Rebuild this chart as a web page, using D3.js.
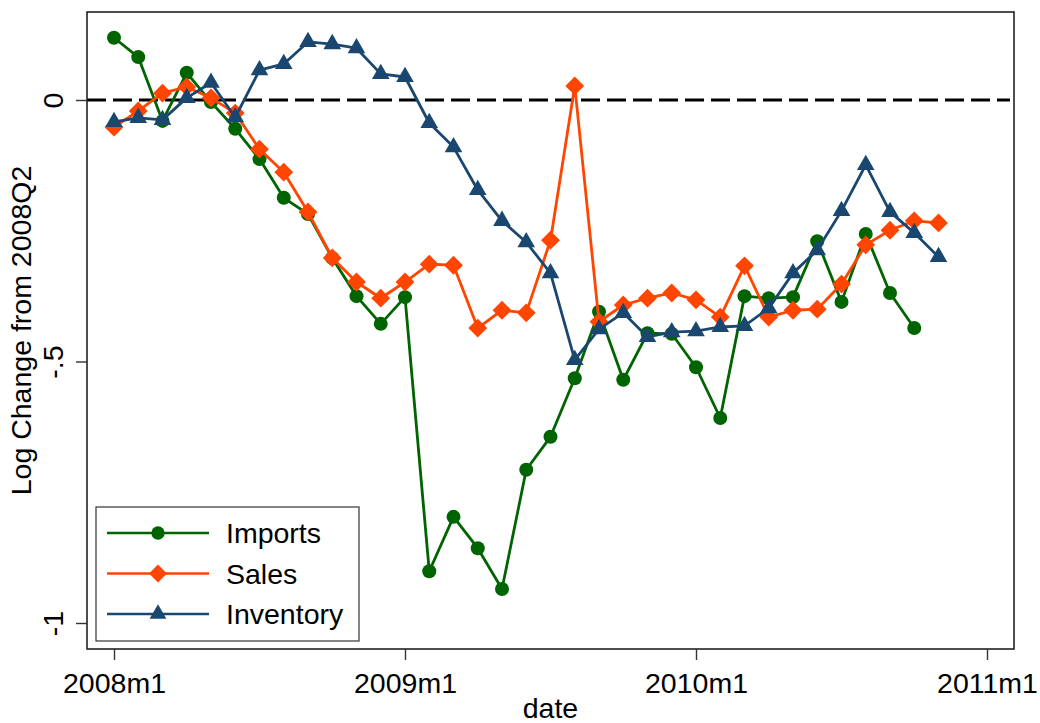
<!DOCTYPE html>
<html lang="en">
<head>
    <meta charset="UTF-8">
    <title>Log Change from 2008Q2</title>
    <script src="https://d3js.org/d3.v7.min.js"></script>
    <style>
        body { margin: 0; background: #fff; }
        svg text { font-family: 'Liberation Sans', Arial, sans-serif; fill: #000; }
    </style>
</head>
<body>
    <div id="chart"></div>

    <script>
        // Monthly values, first point = 2008m1
        const imports = [0.119, 0.082, -0.040, 0.052, -0.004, -0.055, -0.113, -0.187, -0.218, -0.302,
            -0.375, -0.428, -0.377, -0.901, -0.797, -0.857, -0.935, -0.707, -0.644, -0.532,
            -0.405, -0.535, -0.446, -0.447, -0.511, -0.608, -0.375, -0.379, -0.377, -0.270,
            -0.386, -0.256, -0.369, -0.436];
        const sales = [-0.052, -0.021, 0.013, 0.025, 0.004, -0.025, -0.094, -0.138, -0.214, -0.302,
            -0.348, -0.379, -0.348, -0.314, -0.316, -0.436, -0.402, -0.407, -0.268, 0.027,
            -0.424, -0.392, -0.379, -0.369, -0.382, -0.415, -0.317, -0.415, -0.402, -0.400,
            -0.352, -0.277, -0.249, -0.231, -0.235];
        const inventory = [-0.042, -0.034, -0.038, 0.004, 0.033, -0.033, 0.057, 0.069, 0.111, 0.107,
            0.099, 0.050, 0.044, -0.044, -0.090, -0.172, -0.231, -0.272, -0.331, -0.497,
            -0.438, -0.407, -0.453, -0.444, -0.442, -0.434, -0.432, -0.398, -0.331, -0.287,
            -0.212, -0.124, -0.214, -0.254, -0.300];

        const xTickMonths = [0, 12, 24, 36];
        const xTickLabels = ['2008m1', '2009m1', '2010m1', '2011m1'];
        const yTickValues = [0, -0.5, -1];
        const yTickLabels = ['0', '-.5', '-1'];

        const seriesNames = ['Imports', 'Sales', 'Inventory'];

        const config = {
            width: 1040,
            height: 723,
            plot: { left: 87, top: 12, width: 927, height: 637 },
            colors: ['#006400', '#ff4500', '#1a476f'],
            fontSize: 28.5
        };

        function diamondPath(r) {
            return `M0,${-r}L${r},0L0,${r}L${-r},0Z`;
        }

        function drawMarker(sel, kind, color, scale) {
            const s = scale || 1;
            if (kind === 0) {
                sel.append('circle').attr('r', 7 * s).attr('fill', color);
            } else if (kind === 1) {
                sel.append('path').attr('d', diamondPath(9.4 * s)).attr('fill', color);
            } else {
                sel.append('path')
                    .attr('d', d3.symbol().type(d3.symbolTriangle).size(135 * s * s)())
                    .attr('fill', color);
            }
        }

        function initChart() {
            const p = config.plot;
            const svg = d3.select('#chart').append('svg')
                .attr('width', config.width)
                .attr('height', config.height);

            const g = svg.append('g')
                .attr('transform', `translate(${p.left}, ${p.top})`);

            const xScale = d3.scaleLinear().domain([0, 36]).range([27, 900]);
            const yScale = d3.scaleLinear().domain([-1, 0]).range([611, 88]);

            // zero line
            g.append('line')
                .attr('x1', 0).attr('x2', p.width - 4)
                .attr('y1', yScale(0)).attr('y2', yScale(0))
                .attr('stroke', '#000')
                .attr('stroke-width', 3)
                .attr('stroke-dasharray', '19,7');

            const allSeries = [imports, sales, inventory];
            const line = d3.line()
                .x((d, i) => xScale(i))
                .y(d => yScale(d));

            allSeries.forEach((values, k) => {
                const color = config.colors[k];
                g.append('path')
                    .datum(values)
                    .attr('fill', 'none')
                    .attr('stroke', color)
                    .attr('stroke-width', 2.8)
                    .attr('stroke-linejoin', 'round')
                    .attr('d', line);

                g.selectAll(`.m${k}`)
                    .data(values)
                    .enter()
                    .append('g')
                    .attr('class', `m${k}`)
                    .attr('transform', (d, i) => `translate(${xScale(i)}, ${yScale(d)})`)
                    .each(function () { drawMarker(d3.select(this), k, color); });
            });

            // plot frame
            g.append('rect')
                .attr('width', p.width).attr('height', p.height)
                .attr('fill', 'none')
                .attr('stroke', '#222')
                .attr('stroke-width', 1.6);

            // axes
            const xAxis = g.append('g')
                .attr('transform', `translate(0, ${p.height})`)
                .call(d3.axisBottom(xScale)
                    .tickValues(xTickMonths)
                    .tickSize(11)
                    .tickFormat((d, i) => xTickLabels[i]));
            xAxis.select('.domain').remove();
            xAxis.selectAll('line').attr('stroke', '#333').attr('stroke-width', 1.4);
            xAxis.selectAll('text')
                .attr('y', 44).attr('dy', 0)
                .style('font-size', config.fontSize + 'px');

            const yAxis = g.append('g')
                .call(d3.axisLeft(yScale)
                    .tickValues(yTickValues)
                    .tickSize(11)
                    .tickFormat((d, i) => yTickLabels[i]));
            yAxis.select('.domain').remove();
            yAxis.selectAll('line').attr('stroke', '#333').attr('stroke-width', 1.4);
            yAxis.selectAll('text')
                .attr('x', 0).attr('dy', 0)
                .attr('text-anchor', 'middle')
                .attr('transform', 'translate(-24, 0) rotate(-90)')
                .style('font-size', config.fontSize + 'px');

            // axis titles
            g.append('text')
                .attr('transform', `translate(${-p.left + 31}, ${p.height / 2}) rotate(-90)`)
                .attr('text-anchor', 'middle')
                .style('font-size', config.fontSize + 'px')
                .text('Log Change from 2008Q2');

            g.append('text')
                .attr('x', p.width / 2)
                .attr('y', p.height + 69)
                .attr('text-anchor', 'middle')
                .style('font-size', config.fontSize + 'px')
                .text('date');

            // legend
            const legend = svg.append('g').attr('transform', 'translate(96, 507)');
            legend.append('rect')
                .attr('width', 263).attr('height', 134)
                .attr('fill', '#fff')
                .attr('stroke', '#333')
                .attr('stroke-width', 1.2);

            seriesNames.forEach((name, k) => {
                const row = legend.append('g')
                    .attr('transform', `translate(0, ${26 + k * 40.5})`);
                row.append('line')
                    .attr('x1', 11).attr('x2', 113)
                    .attr('stroke', config.colors[k])
                    .attr('stroke-width', 2.4);
                const mk = row.append('g').attr('transform', 'translate(62, 0)');
                drawMarker(mk, k, config.colors[k], 0.95);
                row.append('text')
                    .attr('x', 130)
                    .attr('y', 10)
                    .style('font-size', config.fontSize + 'px')
                    .text(name);
            });
        }

        document.addEventListener('DOMContentLoaded', initChart);
    </script>
</body>
</html>
